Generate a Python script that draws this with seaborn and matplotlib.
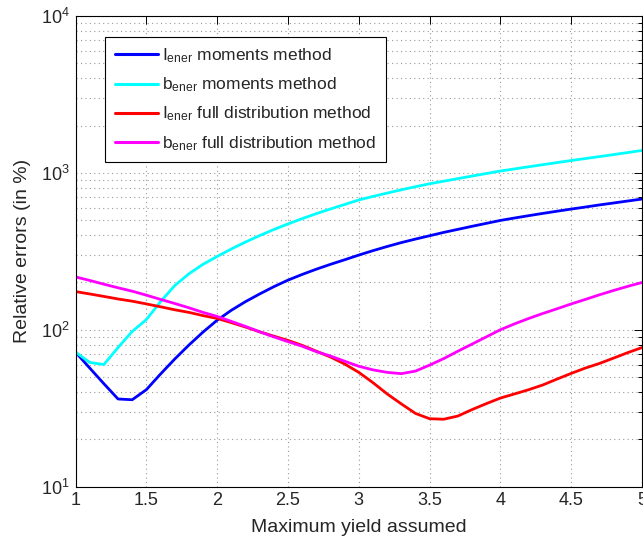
import numpy as np
import pandas as pd
import matplotlib
matplotlib.use("Agg")
import matplotlib.pyplot as plt
from matplotlib.ticker import FixedLocator, FormatStrFormatter, LogLocator, NullFormatter
import seaborn as sns

# Maximum yield assumed (common grid for all four curves)
max_yield = [1.0, 1.1, 1.2, 1.3, 1.4, 1.5, 1.6, 1.7, 1.8, 1.9,
             2.0, 2.1, 2.2, 2.3, 2.4, 2.5, 2.6, 2.7, 2.8, 2.9,
             3.0, 3.1, 3.2, 3.3, 3.4, 3.5, 3.6, 3.7, 3.8, 3.9,
             4.0, 4.1, 4.2, 4.3, 4.4, 4.5, 4.6, 4.7, 4.8, 4.9, 5.0]

# Relative errors (in %)
i_moments = [72, 57, 45.3, 36.2, 35.8, 41.5, 52.2, 65, 79.8, 96.6,
             115, 133, 151, 169, 188, 207, 225, 243, 261, 279,
             299, 319, 339, 359, 378, 397, 417, 436, 456, 476,
             497, 515, 533, 551, 569, 587, 605, 624, 642, 661, 680]
b_moments = [72, 61.9, 60, 77, 97.5, 116, 151, 191, 227, 261,
             293, 327, 362, 398, 435, 472, 510, 549, 588, 628,
             671, 707, 742, 779, 815, 851, 884, 918, 953, 989,
             1026, 1058, 1092, 1126, 1161, 1197, 1232, 1268, 1306, 1346, 1387]
i_full = [175, 169, 163, 157, 152, 146, 140, 134, 129, 123,
          118, 111, 104, 97, 91, 85.5, 79.5, 73, 67, 60.5,
          53.5, 46, 39, 33.7, 29.3, 27.1, 26.9, 28.2, 31, 33.8,
          36.7, 39, 41.5, 44.5, 48.5, 52.7, 57, 61, 66, 71.5, 77]
b_full = [217, 206, 195, 185, 176, 166, 156, 147, 138, 129,
          121.5, 113, 105, 97, 90, 84, 78.5, 72.5, 68, 63,
          58.5, 55.5, 53.5, 52.5, 54.5, 59.5, 65.5, 73, 81, 90,
          100, 109, 118, 127, 136, 146, 156, 167, 178, 189, 200]

series_names = [r"$\mathregular{I_{ener}}$ moments method",
                r"$\mathregular{b_{ener}}$ moments method",
                r"$\mathregular{I_{ener}}$ full distribution method",
                r"$\mathregular{b_{ener}}$ full distribution method"]
series_values = [i_moments, b_moments, i_full, b_full]
series_colors = ["#0000ff", "#00ffff", "#ff0000", "#ff00ff"]

x_ticks = [1, 1.5, 2, 2.5, 3, 3.5, 4, 4.5, 5]

df = pd.concat(
    [pd.DataFrame({"yield": max_yield, "error": vals, "series": name})
     for name, vals in zip(series_names, series_values)],
    ignore_index=True)

sns.set_style("white")
plt.rcParams["font.family"] = ["Liberation Sans", "DejaVu Sans"]
plt.rcParams["mathtext.fontset"] = "custom"
plt.rcParams["mathtext.rm"] = "Liberation Sans"
plt.rcParams["mathtext.it"] = "Liberation Sans:italic"
plt.rcParams["mathtext.bf"] = "Liberation Sans:bold"

fig = plt.figure(figsize=(6.43, 5.45), dpi=100)
ax = fig.add_axes([0.1175, 0.107, 0.881, 0.864])

sns.lineplot(data=df, x="yield", y="error", hue="series",
             hue_order=series_names, palette=series_colors,
             linewidth=2.0, ax=ax, legend=True)

ax.set_yscale("log")
ax.set_xlim(1, 5)
ax.set_ylim(10, 1e4)

ax.xaxis.set_major_locator(FixedLocator(x_ticks))
ax.xaxis.set_major_formatter(FormatStrFormatter("%g"))
ax.yaxis.set_major_locator(LogLocator(base=10, numticks=10))
ax.yaxis.set_minor_locator(LogLocator(base=10, subs=np.arange(2, 10), numticks=20))
ax.yaxis.set_minor_formatter(NullFormatter())

ax.grid(True, which="major", axis="both", linestyle=(0, (1, 3)),
        color="#9a9a9a", linewidth=0.8)
ax.grid(True, which="minor", axis="y", linestyle=(0, (1, 3)),
        color="#9a9a9a", linewidth=0.8)

ax.tick_params(which="both", direction="in", top=True, right=True,
               labelsize=13, color="black", width=0.7)
ax.tick_params(which="major", length=6, pad=4)
ax.tick_params(which="minor", length=3)
for sp in ax.spines.values():
    sp.set_visible(True)
    sp.set_color("black")
    sp.set_linewidth(0.8)

ax.set_xlabel("Maximum yield assumed", fontsize=14, labelpad=7)
ax.set_ylabel("Relative errors (in %)", fontsize=14, labelpad=7)

handles, labels = ax.get_legend_handles_labels()
leg = ax.legend(handles, labels, loc="upper left",
                bbox_to_anchor=(0.052, 0.955), borderaxespad=0,
                fontsize=12.5, frameon=True, fancybox=False,
                edgecolor="black", framealpha=1, handlelength=2.5,
                handletextpad=0.25, labelspacing=0.6, borderpad=0.55)
leg.get_frame().set_linewidth(0.8)
for line in leg.get_lines():
    line.set_linewidth(2.2)

fig.savefig("out.png", dpi=100)
